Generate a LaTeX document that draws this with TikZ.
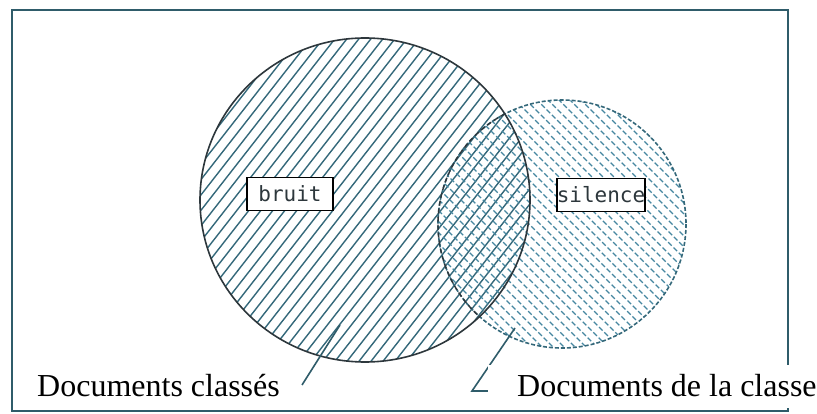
\documentclass[tikz,border=0pt]{standalone}
\usepackage{fontspec}
\setmainfont{Liberation Serif}
\newfontfamily\boxfont{DejaVu Sans Mono}
\definecolor{framec}{RGB}{47,92,106}
\definecolor{hatchA}{RGB}{52,104,122}
\definecolor{hatchB}{RGB}{70,135,160}
\definecolor{outl}{RGB}{45,55,60}
\begin{document}
\begin{tikzpicture}[x=1pt,y=-1pt,
  frame/.style={draw=framec,line width=2.8pt},
  hatchbig/.style={draw=hatchA,line width=1.4pt},
  hatchsmall/.style={draw=hatchB,line width=1.4pt,dash pattern=on 5pt off 2.5pt},
  bigoutline/.style={draw=outl,line width=1.6pt},
  smalloutline/.style={draw=hatchA,line width=1.6pt,dash pattern=on 4pt off 2pt},
  innerarc/.style={draw=outl,line width=1.4pt,dash pattern=on 5pt off 3pt},
  tagbox/.style={draw=black,fill=white,line width=1.6pt,inner sep=0pt,
    minimum width=86pt,minimum height=33pt,text=outl,font=\boxfont\fontsize{21}{24}\selectfont},
  pointer/.style={draw=framec,line width=1.6pt},
  whitebox/.style={fill=white,draw=none,inner sep=0pt,anchor=north west},
  caption/.style={font=\fontsize{32}{37}\selectfont,inner sep=0pt,anchor=base west,text=black}
]
\useasboundingbox (0,0) rectangle (817,414);
\fill[white] (0,0) rectangle (817,414);
% frame
\draw[frame] (12,10) rectangle (788,411);
% hatching of the big ellipse
\begin{scope}
  \clip (365,200) ellipse [x radius=165, y radius=162];
  \foreach \k in {-40,...,40} {
    \draw[hatchbig] ({365+\k*12-300},{200+384}) -- ({365+\k*12+300},{200-384});
  }
\end{scope}
% hatching of the small ellipse
\begin{scope}
  \clip (562,224) ellipse [x radius=124, y radius=124];
  \foreach \k in {-40,...,40} {
    \draw[hatchsmall] ({562+\k*11-300},{224-300}) -- ({562+\k*11+300},{224+300});
  }
\end{scope}
% outlines
\draw[smalloutline] (562,224) ellipse [x radius=124, y radius=124];
\begin{scope}
  \clip (365,200) ellipse [x radius=165, y radius=162];
  \draw[innerarc] (562,224) ellipse [x radius=124, y radius=124];
\end{scope}
\draw[bigoutline] (365,200) ellipse [x radius=165, y radius=162];
% tag boxes
\node[tagbox] (bruit) at (290,194) {bruit};
\node[tagbox] (silence) at (601,195) {silence};
% pointers
\coordinate (p1) at (340,325);
\coordinate (p2) at (302,385);
\coordinate (q1) at (515,328);
\coordinate (q2) at (472,391);
\coordinate (q3) at (488,391);
\draw[pointer] (p1) -- (p2);
\draw[pointer] (q1) -- (q2) -- (q3);
% caption boxes
\node[whitebox,minimum width=285pt,minimum height=52pt] (cbox1) at (15,357) {};
\node[whitebox,minimum width=330pt,minimum height=43pt] (cbox2) at (488,365) {};
\node[caption] (cap1) at (37,396) {Documents classés};
\node[caption] (cap2) at (517,396) {Documents de la classe};
\end{tikzpicture}
\end{document}
